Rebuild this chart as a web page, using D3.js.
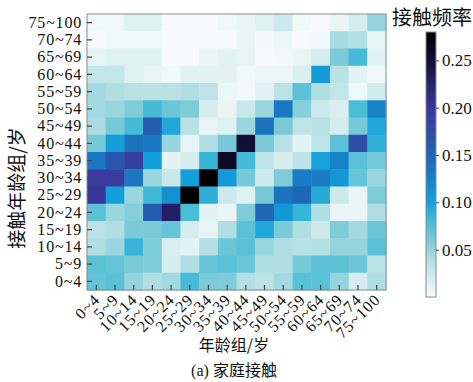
<!DOCTYPE html>
<html>
<head>
<meta charset="utf-8">
<script src="https://cdn.jsdelivr.net/npm/d3@7/dist/d3.min.js"></script>
<style>
  html, body { margin: 0; padding: 0; background: #fff; }
  svg { display: block; }
  svg text.serif, svg .tick text { font-family: "Liberation Serif", "Times New Roman", "DejaVu Serif", serif !important; }
</style>
</head>
<body>
<svg id="chart" width="473" height="382"></svg>
<script>
// Age groups (columns: age group; rows: contacted age group)
const ageGroups = ["0~4","5~9","10~14","15~19","20~24","25~29","30~34","35~39",
                   "40~44","45~49","50~54","55~59","60~64","65~69","70~74","75~100"];

// Household contact rates, rows listed from the oldest contact group (top) down to 0~4
const rowGroupsTopDown = ["75~100","70~74","65~69","60~64","55~59","50~54","45~49","40~44",
                          "35~39","30~34","25~29","20~24","15~19","10~14","5~9","0~4"];
const rates = [
  [0.005,0.005,0.015,0.015,0,0,0,0.004, 0.008,0.015,0.025,0.003,0,0.008,0.02,0.05],
  [0,0.004,0.005,0.005,0,0,0,0, 0.008,0.003,0.007,0,0.003,0.043,0.038,0.01],
  [0.01,0.015,0.015,0.015,0,0,0.008,0.012, 0.01,0,0.003,0.008,0.02,0.06,0.08,0.012],
  [0.03,0.03,0.015,0.01,0.005,0.012,0.012,0.012, 0.005,0.007,0.007,0.017,0.105,0.035,0.012,0.004],
  [0.045,0.04,0.035,0.035,0.035,0.04,0.033,0.007, 0.003,0.012,0.034,0.072,0.04,0.03,0.005,0.023],
  [0.045,0.048,0.058,0.08,0.065,0.058,0.02,0.008, 0.027,0.048,0.135,0.056,0.025,0.017,0.078,0.125],
  [0.042,0.062,0.08,0.16,0.095,0.035,0.01,0.015, 0.048,0.14,0.06,0.033,0.036,0.02,0.062,0.095],
  [0.062,0.1,0.14,0.135,0.05,0.01,0.04,0.062, 0.25,0.06,0.036,0.012,0.032,0.072,0.175,0.088],
  [0.135,0.165,0.19,0.1,0.012,0.02,0.085,0.26, 0.08,0.033,0.02,0.034,0.098,0.125,0.072,0.062],
  [0.195,0.195,0.135,0.048,0.027,0.1,0.28,0.105, 0.062,0.025,0.058,0.13,0.13,0.108,0.068,0.048],
  [0.2,0.1,0.048,0.082,0.115,0.28,0.09,0.025, 0.015,0.062,0.138,0.15,0.092,0.025,0.008,0.058],
  [0.072,0.048,0.056,0.16,0.23,0.078,0.012,0.008, 0.058,0.15,0.108,0.085,0.04,0.008,0.008,0.04],
  [0.034,0.04,0.06,0.06,0.068,0.02,0.01,0.04, 0.072,0.095,0.06,0.04,0.025,0.058,0.045,0.066],
  [0.04,0.048,0.085,0.058,0.017,0.012,0.038,0.066, 0.072,0.048,0.04,0.036,0.038,0.05,0.05,0.072],
  [0.072,0.068,0.06,0.058,0.02,0.04,0.068,0.072, 0.066,0.04,0.04,0.062,0.072,0.072,0.066,0.034],
  [0.068,0.072,0.05,0.04,0.045,0.08,0.06,0.058, 0.038,0.033,0.045,0.072,0.072,0.05,0.02,0.04]
];

// Colour bar
const colorbarTicks = [0.05, 0.10, 0.15, 0.20, 0.25];
const colorDomain = [0, 0.28];
const colorStops = [0, 0.02, 0.04, 0.06, 0.08, 0.10, 0.125, 0.15, 0.175, 0.20, 0.225, 0.25, 0.28];
const colorValues = ["#f7fbfd","#d6edef","#b0dee2","#7acad8","#45bbd7","#12a0da","#1683c9",
                     "#1f66b5","#2f4ca6","#3a379b","#2a2270","#120d35","#000000"];

const titleX = "年龄组/岁";
const titleY = "接触年龄组/岁";
const caption = "(a) 家庭接触";
const legendTitle = "接触频率";

const cjk = "'Noto Sans CJK SC', sans-serif";

const svg = d3.select("#chart");
const plot = { left: 87, top: 14, width: 299, height: 276 };

const x = d3.scaleBand().domain(ageGroups).range([plot.left, plot.left + plot.width]);
const y = d3.scaleBand().domain(rowGroupsTopDown).range([plot.top, plot.top + plot.height]);
const color = d3.scaleLinear().domain(colorStops).range(colorValues).interpolate(d3.interpolateRgb).clamp(true);

const cells = [];
rates.forEach((row, i) => row.forEach((v, j) => cells.push({ r: rowGroupsTopDown[i], c: ageGroups[j], v })));

svg.append("g").selectAll("rect").data(cells).join("rect")
  .attr("x", d => x(d.c))
  .attr("y", d => y(d.r))
  .attr("width", x.bandwidth() + 0.5)
  .attr("height", y.bandwidth() + 0.5)
  .attr("fill", d => color(d.v));

// Frame
svg.append("rect")
  .attr("x", plot.left).attr("y", plot.top)
  .attr("width", plot.width).attr("height", plot.height)
  .attr("fill", "none").attr("stroke", "#8a8a8a").attr("stroke-width", 1);

// Left axis with inward ticks
const yAxis = svg.append("g")
  .attr("transform", `translate(${plot.left},0)`)
  .call(d3.axisLeft(y).tickSizeInner(-5).tickSizeOuter(0).tickPadding(5));
yAxis.attr("font-family", null);
yAxis.select(".domain").remove();
yAxis.selectAll(".tick line").attr("stroke", "#444").attr("stroke-width", 1.2);
yAxis.selectAll(".tick text")
  .attr("x", -5)
  .attr("font-size", 16).attr("fill", "#111")
  .attr("letter-spacing", 0.8);

// Bottom axis with inward ticks, labels at 45°
const xAxis = svg.append("g")
  .attr("transform", `translate(0,${plot.top + plot.height})`)
  .call(d3.axisBottom(x).tickSizeInner(-5).tickSizeOuter(0));
xAxis.attr("font-family", null);
xAxis.select(".domain").remove();
xAxis.selectAll(".tick line").attr("stroke", "#444").attr("stroke-width", 1.2);
xAxis.selectAll(".tick text")
  .attr("font-size", 16).attr("fill", "#111")
  .attr("letter-spacing", 1)
  .attr("text-anchor", "end")
  .attr("dy", null).attr("y", null)
  .attr("transform", "translate(2,8) rotate(-45)")
  .attr("dominant-baseline", "middle");

// Axis titles
svg.append("text")
  .attr("x", 234).attr("y", 351)
  .attr("text-anchor", "middle")
  .attr("font-family", cjk).attr("font-size", 16).attr("fill", "#111")
  .text(titleX);
const cap = svg.append("text")
  .attr("x", 234).attr("y", 376)
  .attr("text-anchor", "middle")
  .attr("font-size", 16).attr("fill", "#111");
cap.append("tspan").attr("class", "serif").text(caption.slice(0, 4));
cap.append("tspan").attr("font-family", cjk).text(caption.slice(4));
svg.append("text")
  .attr("transform", "translate(24,188) rotate(-90)")
  .attr("text-anchor", "middle")
  .attr("font-family", cjk).attr("font-size", 19).attr("fill", "#111")
  .text(titleY);

// Colour bar
const cb = { x: 426, top: 32, bottom: 297, width: 10 };
const cbScale = d3.scaleLinear().domain(colorDomain).range([cb.bottom, cb.top]);
const defs = svg.append("defs");
const grad = defs.append("linearGradient")
  .attr("id", "cbGrad").attr("x1", 0).attr("y1", 1).attr("x2", 0).attr("y2", 0);
grad.selectAll("stop").data(colorStops).join("stop")
  .attr("offset", d => (d - colorDomain[0]) / (colorDomain[1] - colorDomain[0]))
  .attr("stop-color", d => color(d));
svg.append("rect")
  .attr("x", cb.x).attr("y", cb.top)
  .attr("width", cb.width).attr("height", cb.bottom - cb.top)
  .attr("fill", "url(#cbGrad)")
  .attr("stroke", "#8a8a8a").attr("stroke-width", 1);
const cbAxis = svg.append("g")
  .attr("transform", `translate(${cb.x + cb.width},0)`)
  .call(d3.axisRight(cbScale).tickValues(colorbarTicks).tickFormat(d3.format(".2f")).tickSize(3).tickPadding(3));
cbAxis.attr("font-family", null);
cbAxis.select(".domain").remove();
cbAxis.selectAll(".tick line").attr("stroke", "#444");
cbAxis.selectAll(".tick text").attr("font-size", 17).attr("fill", "#111");

svg.append("text")
  .attr("x", 392).attr("y", 25)
  .attr("font-family", cjk).attr("font-size", 20).attr("fill", "#111")
  .text(legendTitle);
</script>
</body>
</html>
